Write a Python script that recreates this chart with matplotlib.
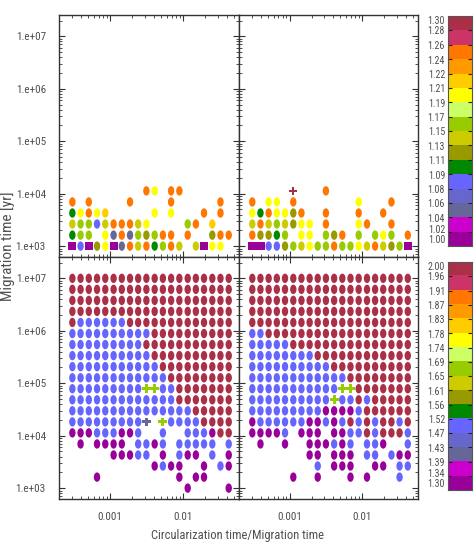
import numpy as np
import matplotlib
matplotlib.use('Agg')
import matplotlib.pyplot as plt
from matplotlib import font_manager
from matplotlib.path import Path
from matplotlib.colors import ListedColormap
from matplotlib.ticker import FixedLocator, NullFormatter, LogLocator

# x grid: circularization time / migration time
ratio = [3.05e-4, 3.95e-4, 5.12e-4, 6.64e-4, 8.61e-4, 1.12e-3, 1.45e-3,
         1.88e-3, 2.43e-3, 3.15e-3, 4.09e-3, 5.30e-3, 6.87e-3, 8.91e-3,
         1.16e-2, 1.50e-2, 1.94e-2, 2.52e-2, 3.26e-2, 4.23e-2]
# y grid: migration time [yr]
mig_time = [1.00e3, 1.62e3, 2.64e3, 4.28e3, 6.95e3, 1.13e4, 1.83e4, 2.98e4,
            4.83e4, 7.85e4, 1.27e5, 2.07e5, 3.36e5, 5.46e5, 8.86e5, 1.44e6,
            2.34e6, 3.79e6, 6.16e6, 1.00e7]

# 16 colour levels, bottom to top of the colour bars
level_colors = ['#990099', '#cc00cc', '#666699', '#6666cc', '#6666ff', '#008800',
                '#999900', '#cccc00', '#99cc00', '#ccff66', '#ffff00', '#ffcc00',
                '#ff9900', '#ff7700', '#cc3366', '#aa3048']
cb_top_labels = ['1.00', '1.02', '1.04', '1.06', '1.08', '1.09', '1.11', '1.13', '1.15',
                 '1.17', '1.19', '1.21', '1.22', '1.24', '1.26', '1.28', '1.30']
cb_bot_labels = ['1.30', '1.34', '1.39', '1.43', '1.47', '1.52', '1.56', '1.61', '1.65',
                 '1.69', '1.74', '1.78', '1.83', '1.87', '1.91', '1.96', '2.00']

x_tick_vals = [1e-3, 1e-2]
x_tick_labels = ['0.001', '0.01']
y_tick_vals = [1e3, 1e4, 1e5, 1e6, 1e7]
y_tick_labels = ['1.e+03', '1.e+04', '1.e+05', '1.e+06', '1.e+07']

# level per grid cell (hex digit = colour level, '.' = nothing), top row first
grid_tl = [
    ".........da.dd......",
    "d.d....d....d.....d.",
    "5adab.....a.a...d.d.",
    "78847ddd7a....8d.b..",
    "588.a2d2868dd.d..6dd",
    "0406a02d7d58d7.70aa.",
]
grid_tr = [
    ".....f...d..........",
    "d.aa.d.......a...d..",
    "a5daa6d..d...d..d...",
    "7d7876aa.d...ad..d..",
    "d6658.aa.86d.8.8a8.d",
    "0044687a88d88a7d7680",
]
grid_bl = [
    "ffffffffffffffffffff",
    "ffffffffffffffffffff",
    "ffffffffffffffffffff",
    "ffffffffffffffffffff",
    "f444444fffffffffffff",
    "4444444444ffffffffff",
    "444444444fffffffffff",
    "4444444444ffffffffff",
    "44444444444fffffffff",
    "444444444444ffffffff",
    "4444444448844fffffff",
    "4444444444444fffffff",
    "444444444444444fffff",
    "4444444442.84444ffff",
    "000444004..4..4440ff",
    ".0.0000.4404.44444.4",
    ".....00044.0.400.4.0",
    "..........0400..0.40",
    "...0.........0.00...",
    "..............0....0",
]
grid_br = [
    "ffffffffffffffffffff",
    "ffffffffffffffffffff",
    "ffffffffffffffffffff",
    "ffffffffffffffffffff",
    "ffffffffffffffffffff",
    "44ffffffffffffffffff",
    "44444fffffffffffffff",
    "44444444ffffffffffff",
    "4444444444ffffffffff",
    "444444444444ffffffff",
    "4444444444488fffffff",
    "4444444444844f4fffff",
    "44444444400004ffffff",
    "044444400404f4f4ff4f",
    "00004.000.0044f4fff4",
    ".0..0..000404.440..4",
    ".......00.000.44.400",
    "........4.000..00.44",
    ".....0..0...0.0...4.",
    "....................",
]
# (column, row) cells drawn as squares or plus signs instead of ellipses
squares_tl = [(0, 0), (2, 0), (5, 0), (16, 0)]
squares_tr = [(0, 0), (1, 0), (19, 0)]
pluses_tr = [(5, 5)]
pluses_bl = [(9, 9), (10, 9), (9, 6), (11, 6)]
pluses_br = [(11, 9), (12, 9), (10, 8)]

names = {f.name for f in font_manager.fontManager.ttflist}
plt.rcParams['font.family'] = [n for n in ['Roboto Condensed', 'Liberation Sans Narrow',
                                           'Roboto', 'DejaVu Sans'] if n in names]
tick_fs = 8.0
cb_fs = 7.2
txt_col = '#505050'

circ = Path.unit_circle()
ellipse = Path(circ.vertices * np.array([0.68, 1.0]), circ.codes)


def draw_panel(ax, grid, squares=(), pluses=()):
    nrow = len(grid)
    kinds = {'e': ([], [], []), 's': ([], [], []), 'p': ([], [], [])}
    for j, line in enumerate(grid):
        row = nrow - 1 - j
        for col, ch in enumerate(line):
            if ch == '.':
                continue
            k = 's' if (col, row) in squares else 'p' if (col, row) in pluses else 'e'
            kinds[k][0].append(ratio[col])
            kinds[k][1].append(mig_time[row])
            kinds[k][2].append(level_colors[int(ch, 16)])
    ax.scatter(kinds['e'][0], kinds['e'][1], c=kinds['e'][2], marker=ellipse,
               s=46, linewidths=0, zorder=3)
    ax.scatter(kinds['s'][0], kinds['s'][1], c=kinds['s'][2], marker='s',
               s=34, linewidths=0, zorder=3)
    ax.scatter(kinds['p'][0], kinds['p'][1], c=kinds['p'][2], marker='P',
               s=40, linewidths=0, zorder=3)


def style_axes(ax, show_x, show_y):
    ax.set_xscale('log')
    ax.set_yscale('log')
    ax.set_xlim(2.0e-4, 5.85e-2)
    ax.set_ylim(6.2e2, 2.55e7)
    ax.xaxis.set_major_locator(FixedLocator(x_tick_vals))
    ax.yaxis.set_major_locator(FixedLocator(y_tick_vals))
    ax.xaxis.set_minor_locator(LogLocator(base=10, subs=np.arange(2, 10)))
    ax.yaxis.set_minor_locator(LogLocator(base=10, subs=np.arange(2, 10)))
    ax.xaxis.set_minor_formatter(NullFormatter())
    ax.yaxis.set_minor_formatter(NullFormatter())
    ax.set_xticklabels(x_tick_labels if show_x else [])
    ax.set_yticklabels(y_tick_labels if show_y else [])
    ax.tick_params(which='both', direction='in', top=True, right=True,
                   color='#333333', labelsize=tick_fs, labelcolor=txt_col)
    ax.tick_params(which='major', length=4, width=0.8)
    ax.tick_params(which='minor', length=2, width=0.6)
    ax.tick_params(axis='x', pad=9)
    ax.tick_params(axis='y', pad=9.5)
    for sp in ax.spines.values():
        sp.set_color('#333333')
        sp.set_linewidth(1.0)


def draw_cbar(cax, labels):
    cmap = ListedColormap(level_colors)
    cax.imshow(np.arange(16).reshape(-1, 1), cmap=cmap, origin='lower',
               aspect='auto', extent=(0, 1, 0, 16), interpolation='nearest')
    cax.set_xticks([])
    cax.set_yticks(range(1, 16))
    cax.set_yticklabels([])
    cax.tick_params(axis='y', direction='in', left=True, right=True,
                    length=3, width=0.8, color='#222222')
    for sp in cax.spines.values():
        sp.set_color('#555555')
        sp.set_linewidth(0.8)
    for i, lab in enumerate(labels):
        pos = min(max(i - 0.1, 0.4), 15.65)
        if i == 1:
            pos = 1.1
        if i == 15:
            pos = 14.95
        cax.text(-0.12, pos, lab, ha='right', va='center', fontsize=cb_fs,
                 color=txt_col, clip_on=False)


fig = plt.figure(figsize=(4.77, 5.45), dpi=100)
W, H = 477.0, 545.0

ax_tl = fig.add_axes([59 / W, 1 - 257 / H, 180 / W, 242 / H])
ax_tr = fig.add_axes([239 / W, 1 - 257 / H, 179 / W, 242 / H])
ax_bl = fig.add_axes([59 / W, 1 - 499 / H, 180 / W, 242 / H])
ax_br = fig.add_axes([239 / W, 1 - 499 / H, 179 / W, 242 / H])

draw_panel(ax_tl, grid_tl, squares=squares_tl)
draw_panel(ax_tr, grid_tr, squares=squares_tr, pluses=pluses_tr)
draw_panel(ax_bl, grid_bl, pluses=pluses_bl)
draw_panel(ax_br, grid_br, pluses=pluses_br)

style_axes(ax_tl, False, True)
style_axes(ax_tr, False, False)
style_axes(ax_bl, True, True)
style_axes(ax_br, True, False)

cax_top = fig.add_axes([448 / W, 1 - 246 / H, 24 / W, 230 / H])
cax_bot = fig.add_axes([448 / W, 1 - 490 / H, 24 / W, 228 / H])
draw_cbar(cax_top, cb_top_labels)
draw_cbar(cax_bot, cb_bot_labels)

fig.text(8 / W, 1 - 246 / H, 'Migration time [yr]', rotation=90, ha='center',
         va='center', fontsize=11, color=txt_col)
fig.text(238 / W, 1 - 536 / H, 'Circularization time/Migration time', ha='center',
         va='center', fontsize=9, color=txt_col)

fig.savefig('out.png', dpi=100, facecolor='white')
